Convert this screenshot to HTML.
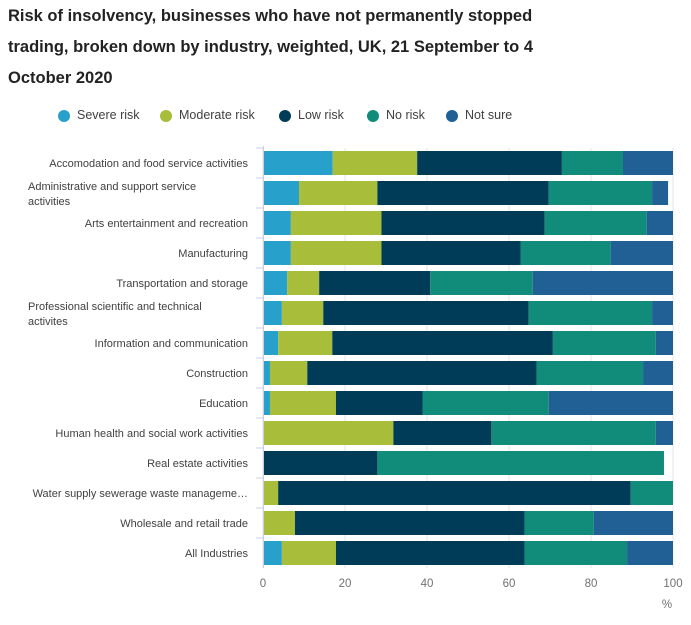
<!DOCTYPE html>
<html><head><meta charset="utf-8"><style>
body{margin:0;background:#fff;font-family:"Liberation Sans",sans-serif;}
#title{position:absolute;left:8px;top:1px;width:560px;font-weight:bold;font-size:16.5px;line-height:31px;color:#222;}
.leg{position:absolute;top:108px;font-size:12.5px;color:#414042;}
.dot{position:absolute;top:110px;width:12px;height:12px;border-radius:50%;}
</style></head><body>
<div id="title">Risk of insolvency, businesses who have not permanently stopped trading, broken down by industry, weighted, UK, 21 September to 4 October 2020</div>
<div id="legend"></div>
<svg id="chart" width="691" height="625" style="position:absolute;left:0;top:0"></svg>
<script>
const categories=["Accomodation and food service activities","Administrative and support service activities","Arts entertainment and recreation","Manufacturing","Transportation and storage","Professional scientific and technical activites","Information and communication","Construction","Education","Human health and social work activities","Real estate activities","Water supply sewerage waste manageme…","Wholesale and retail trade","All Industries"];
const seriesNames=["Severe risk","Moderate risk","Low risk","No risk","Not sure"];
const severe=[17,8.8,6.8,6.8,5.9,4.6,3.7,1.7,1.7,0,0,0,0,4.6];
const moderate=[20.6,19.1,22.1,22.1,7.8,10.1,13.2,9.1,16.1,31.8,0,3.7,7.8,13.2];
const low=[35.3,41.8,39.8,33.9,27.1,50.1,53.8,55.9,21.1,23.9,27.9,86,56,46];
const noRisk=[14.9,25.2,24.9,22,25,30.1,25.1,26,30.8,40.1,69.9,10.3,16.9,25];
const notSure=[12.2,3.9,6.4,15.2,34.2,5.1,4.2,7.3,30.3,4.2,0,0,19.3,11.2];
const ticks=[0,20,40,60,80,100];
const colors=["#27a0cc","#a8bd3a","#003c57","#118c7b","#206095"];
const series=[severe,moderate,low,noRisk,notSure];
const X0=263,X1=673,Y0=148,RS=30,BH=24;
const x=v=>X0+(X1-X0)*v/100;
const y=i=>Y0+i*RS+3;
const NS="http://www.w3.org/2000/svg";
const svg=document.getElementById('chart');
function mk(t,a){const e=document.createElementNS(NS,t);for(const k in a)e.setAttribute(k,a[k]);svg.appendChild(e);return e;}
ticks.forEach(t=>{
 const g=mk('line',{x1:x(t),x2:x(t),y1:Y0,y2:Y0+categories.length*RS,stroke:'#e6e6e6','stroke-width':1});
 
 
 const tx=mk('text',{x:x(t),y:587,'text-anchor':'middle','font-size':11.5,fill:'#707070','font-family':'Liberation Sans, sans-serif'});
 tx.textContent=t;
 
 
});
const pct=mk('text',{x:667,y:608,'text-anchor':'middle','font-size':11.5,fill:'#707070','font-family':'Liberation Sans, sans-serif'});
pct.textContent='%';


categories.forEach((c,i)=>{
 let cum=0;
 series.forEach((s,k)=>{
  const r=mk('rect',{x:x(cum),y:y(i),width:x(cum+s[i])-x(cum),height:BH,fill:colors[k]});
  
  
  cum+=s[i];
 });
 const tk=mk('line',{x1:256,x2:263,y1:Y0+i*RS,y2:Y0+i*RS,stroke:'#c8d0e0'});
 
 
 const lbl=mk('text',{'font-size':11,fill:'#414042','font-family':'Liberation Sans, sans-serif'});
 
 
 const cy=y(i)+BH/2+4;
 if(i===1){lbl.innerHTML='<tspan x="28" y="'+(cy-7)+'">Administrative and support service</tspan><tspan x="28" y="'+(cy+8)+'">activities</tspan>';}
 else if(i===5){lbl.innerHTML='<tspan x="28" y="'+(cy-7)+'">Professional scientific and technical</tspan><tspan x="28" y="'+(cy+8)+'">activites</tspan>';}
 else{lbl.setAttribute('x',248);lbl.setAttribute('y',cy);lbl.setAttribute('text-anchor','end');lbl.textContent=c;}
});
const ax=mk('line',{x1:263.5,x2:263.5,y1:Y0-2,y2:Y0+categories.length*RS,stroke:'#c8d0e0'});


const lx=[58,160,279,367,446];
const leg=document.getElementById('legend');
seriesNames.forEach((n,k)=>{
 const d=document.createElement('div');d.className='dot';d.style.left=lx[k]+'px';d.style.background=colors[k];
 
 
 leg.appendChild(d);
 const t=document.createElement('div');t.className='leg';t.style.left=(lx[k]+19)+'px';t.textContent=n;
 
 
 leg.appendChild(t);
});
</script>
</body></html>
